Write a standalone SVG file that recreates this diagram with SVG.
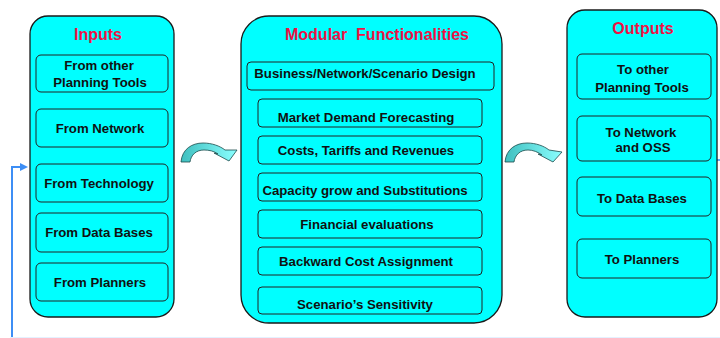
<svg xmlns="http://www.w3.org/2000/svg" width="720" height="338" viewBox="0 0 720 338">
<style>
.panel{fill:#00FFFF;stroke:#1a1a1a;stroke-width:1.3}
.box{fill:#00FFFF;stroke:#222;stroke-width:1}
.title{font-family:"Liberation Sans",Arial,sans-serif;font-weight:bold;font-size:16px;fill:#EE1144;text-anchor:middle;white-space:pre}
.lbl{font-family:"Liberation Sans",Arial,sans-serif;font-weight:bold;font-size:13.2px;fill:#111;text-anchor:middle}
.curv{stroke:#1a4a4a;stroke-width:0.8;fill:url(#cg)}
.conn{fill:none;stroke:#3d8ef5;stroke-width:2}
</style>
<defs>
<linearGradient id="cg" x1="0" y1="0" x2="1" y2="0">
<stop offset="0" stop-color="#3fbfbf"/>
<stop offset="1" stop-color="#8affff"/>
</linearGradient>
<marker id="ah" markerWidth="8" markerHeight="8" refX="6" refY="4" orient="auto" markerUnits="userSpaceOnUse">
<path d="M0,0 L8,4 L0,8 Z" fill="#3d8ef5"/>
</marker>
</defs>
<rect width="720" height="338" fill="#ffffff"/>

<g id="connectors">
<path class="conn" d="M12,338 L12,167 L26,167" marker-end="url(#ah)"/>
<line x1="10" y1="337.5" x2="720" y2="337.5" stroke="#e4f1ff" stroke-width="1"/>
<line x1="717" y1="160" x2="720" y2="160" stroke="#3d8ef5" stroke-width="1.5"/>
<path class="curv" d="M181,162 C182,149 192,143 203,143 C212,143 220,146 225,150 L237,150 L229,161 L214,153 L218,154 C214,151 209,150 204,150 C196,150 191,155 190,162 Z"/>
<path class="curv" d="M505,162 C506,149 516,143 527,143 C536,143 544,146 549,150 L562,152 L553,162 L538,154 L542,155 C538,152 533,150 528,150 C520,150 515,155 514,162 Z"/>
</g>

<g id="inputs">
<rect class="panel" x="30" y="16" width="144" height="301" rx="18"/>
<text class="title" x="98" y="40">Inputs</text>
<g id="in-other"><rect class="box" x="36" y="55" width="132" height="37" rx="5"/>
<text class="lbl" x="99" y="70">From other</text><text class="lbl" x="100" y="87">Planning Tools</text></g>
<g id="in-network"><rect class="box" x="36" y="109" width="132" height="38" rx="5"/>
<text class="lbl" x="100" y="133">From Network</text></g>
<g id="in-technology"><rect class="box" x="36" y="164" width="132" height="38" rx="5"/>
<text class="lbl" x="99" y="188">From Technology</text></g>
<g id="in-databases"><rect class="box" x="36" y="213" width="132" height="39" rx="5"/>
<text class="lbl" x="99" y="237">From Data Bases</text></g>
<g id="in-planners"><rect class="box" x="36" y="263" width="132" height="38" rx="5"/>
<text class="lbl" x="100" y="287">From Planners</text></g>
</g>

<g id="modular">
<rect class="panel" x="241" y="16" width="261" height="307" rx="28"/>
<text class="title" x="377" y="40">Modular  Functionalities</text>
<g id="m-design"><rect class="box" x="247" y="62" width="247" height="28" rx="4"/>
<text class="lbl" x="365" y="78">Business/Network/Scenario Design</text></g>
<g id="m-market"><rect class="box" x="258" y="99" width="224" height="28" rx="4"/>
<text class="lbl" x="366" y="122">Market Demand Forecasting</text></g>
<g id="m-costs"><rect class="box" x="258" y="136" width="224" height="28" rx="4"/>
<text class="lbl" x="366" y="155">Costs, Tariffs and Revenues</text></g>
<g id="m-capacity"><rect class="box" x="258" y="173" width="224" height="28" rx="4"/>
<text class="lbl" x="365" y="195">Capacity grow and Substitutions</text></g>
<g id="m-financial"><rect class="box" x="258" y="210" width="224" height="28" rx="4"/>
<text class="lbl" x="367" y="229">Financial evaluations</text></g>
<g id="m-backward"><rect class="box" x="258" y="247" width="224" height="28" rx="4"/>
<text class="lbl" x="366" y="266">Backward Cost Assignment</text></g>
<g id="m-sensitivity"><rect class="box" x="258" y="287" width="224" height="27" rx="4"/>
<text class="lbl" x="365" y="309">Scenario’s Sensitivity</text></g>
</g>

<g id="outputs">
<rect class="panel" x="567" y="10" width="150" height="307" rx="18"/>
<text class="title" x="643" y="34">Outputs</text>
<g id="out-other"><rect class="box" x="577" y="54" width="134" height="45" rx="5"/>
<text class="lbl" x="643" y="74">To other</text><text class="lbl" x="642" y="92">Planning Tools</text></g>
<g id="out-network"><rect class="box" x="577" y="116" width="134" height="45" rx="5"/>
<text class="lbl" x="641" y="137">To Network</text><text class="lbl" x="643" y="152">and OSS</text></g>
<g id="out-databases"><rect class="box" x="577" y="177" width="134" height="39" rx="5"/>
<text class="lbl" x="642" y="203">To Data Bases</text></g>
<g id="out-planners"><rect class="box" x="577" y="239" width="134" height="39" rx="5"/>
<text class="lbl" x="642" y="264">To Planners</text></g>
</g>
</svg>
